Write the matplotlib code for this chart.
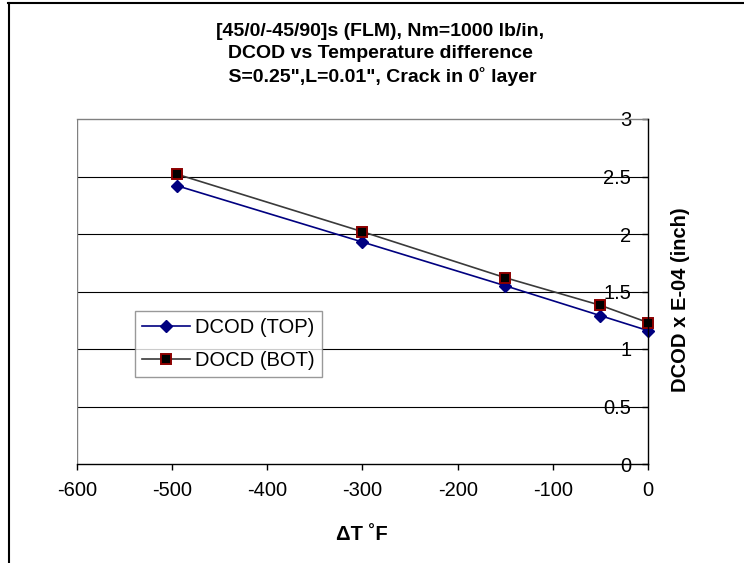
import matplotlib
matplotlib.use("Agg")
import matplotlib.pyplot as plt
from matplotlib.lines import Line2D

plt.rcParams['font.family'] = ['Liberation Sans', 'DejaVu Sans']

# Temperature difference (deg F) and crack-opening displacement values
delta_t = [-495, -300, -150, -50, 0]
dcod_top = [2.42, 1.93, 1.55, 1.29, 1.16]
docd_bot = [2.52, 2.02, 1.62, 1.38, 1.23]
series_labels = ["DCOD (TOP)", "DOCD (BOT)"]
x_ticks = [-600, -500, -400, -300, -200, -100, 0]
y_ticks = [0, 0.5, 1, 1.5, 2, 2.5, 3]

W, H = 744, 563
fig = plt.figure(figsize=(W / 100, H / 100), dpi=100)
ax = fig.add_axes([77 / W, 1 - 464 / H, (648 - 77) / W, (464 - 119) / H])

ax.set_xlim(-600, 0)
ax.set_ylim(0, 3)

# Horizontal gridlines
for yv in y_ticks[1:-1]:
    ax.axhline(yv, color='black', lw=0.8, zorder=1)

# Series
ax.plot(delta_t, dcod_top, color='#000080', lw=1.2, marker='D', markersize=6.5,
        markerfacecolor='#000080', markeredgecolor='#000080', clip_on=False,
        zorder=3, label=series_labels[0])
ax.plot(delta_t, docd_bot, color='#3a3a3a', lw=1.2, marker='s', markersize=7.8,
        markerfacecolor='black', markeredgecolor='#8b0000', markeredgewidth=1.4,
        clip_on=False, zorder=4, label=series_labels[1])

# Spines: value axis sits at x = 0 (right edge), plot-area border in grey
ax.spines['right'].set_visible(False)
ax.spines['left'].set_position(('data', 0))
ax.spines['left'].set_color('black')
ax.spines['left'].set_linewidth(1.0)
ax.spines['left'].set_zorder(5)
ax.spines['bottom'].set_color('black')
ax.spines['bottom'].set_linewidth(1.0)
ax.spines['top'].set_color('#808080')
ax.spines['top'].set_linewidth(1.0)
ax.axvline(-600, color='#808080', lw=1.0, zorder=2)

ax.set_xticks(x_ticks)
ax.set_xticklabels([str(v) for v in x_ticks])
ax.set_yticks(y_ticks)
ax.set_yticklabels([f"{v:g}" for v in y_ticks])
ax.tick_params(axis='x', direction='out', length=4.3, width=1, pad=8, labelsize=14.5)
ax.tick_params(axis='y', direction='out', length=4, width=1, pad=8, labelsize=14.5)

leg = ax.legend(loc='lower left', bbox_to_anchor=(0.1016, 0.252), borderaxespad=0,
                fontsize=14.5, frameon=True, fancybox=False, handlelength=2.4,
                handletextpad=0.25, labelspacing=0.7, borderpad=0.35)
leg.get_frame().set_edgecolor('#808080')
leg.get_frame().set_linewidth(1.0)
leg.set_zorder(6)

# Titles and axis labels
fig.text(380 / W, 1 - 23 / H,
         "[45/0/-45/90]s (FLM), Nm=1000 lb/in,\nDCOD vs Temperature difference\n"
         " S=0.25\",L=0.01\", Crack in 0\u02da layer",
         ha='center', va='top', fontsize=14, fontweight='bold', linespacing=1.35)
fig.text(362 / W, 1 - 535 / H, "\u0394T \u02daF", ha='center', va='center',
         fontsize=14.5, fontweight='bold')
fig.text(680 / W, 1 - 300 / H, "DCOD x E-04 (inch)", ha='center', va='center',
         rotation=90, fontsize=14.5, fontweight='bold')

# Chart frame lines at top and left
fig.add_artist(Line2D([8 / W, 1], [1 - 2.5 / H, 1 - 2.5 / H], color='black', lw=1.5))
fig.add_artist(Line2D([9 / W, 9 / W], [0, 1 - 2.5 / H], color='black', lw=1.5))

fig.savefig("out.png", dpi=100)
